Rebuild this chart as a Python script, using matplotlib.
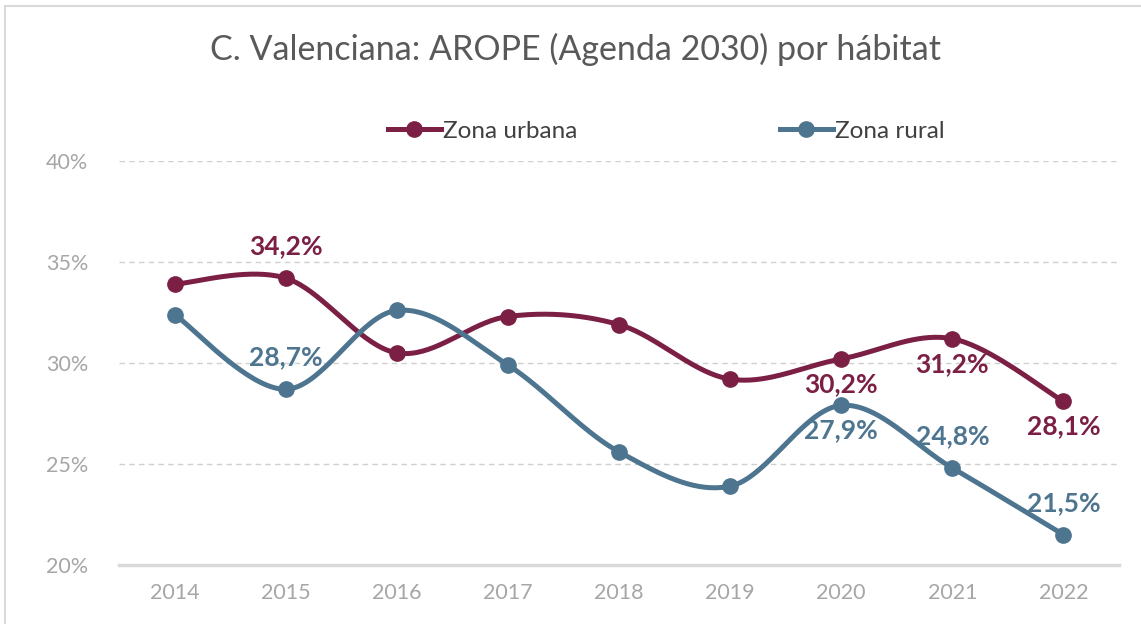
import numpy as np
import matplotlib
matplotlib.use("Agg")
import matplotlib.pyplot as plt
from matplotlib.patches import Rectangle

years = ["2014", "2015", "2016", "2017", "2018", "2019", "2020", "2021", "2022"]
urbana = [33.9, 34.2, 30.5, 32.3, 31.9, 29.2, 30.2, 31.2, 28.1]
rural = [32.4, 28.7, 32.6, 29.9, 25.6, 23.9, 27.9, 24.8, 21.5]
# labelled points: index -> position
urb_labels = {1: "above", 6: "below", 7: "below", 8: "below"}
rur_labels = {1: "above", 6: "below", 7: "above", 8: "above"}

C_URB = "#7B1F45"
C_RUR = "#4E7590"

plt.rcParams['font.family'] = ['Lato', 'DejaVu Sans']

fig = plt.figure(figsize=(11.41, 6.24), dpi=100)
fig.patches.append(Rectangle((0.004, -0.01), 0.999, 1.0, transform=fig.transFigure,
                             fill=False, edgecolor="#D9D9D9", linewidth=1.5))
ax = fig.add_axes([0.1043, 0.0946, 0.8764, 0.6474])

def smooth(xs, ys, n=40):
    xs = np.asarray(xs, float); ys = np.asarray(ys, float)
    P = np.column_stack([xs, ys])
    P = np.vstack([P[0], P, P[-1]])
    out = []
    for i in range(1, len(P) - 2):
        p0, p1, p2, p3 = P[i - 1], P[i], P[i + 1], P[i + 2]
        c1 = p1 + (p2 - p0) / 6
        c2 = p2 - (p3 - p1) / 6
        t = np.linspace(0, 1, n)[:, None]
        seg = (1 - t) ** 3 * p1 + 3 * (1 - t) ** 2 * t * c1 + 3 * (1 - t) * t ** 2 * c2 + t ** 3 * p2
        out.append(seg if i == 1 else seg[1:])
    out = np.vstack(out)
    return out[:, 0], out[:, 1]

x = np.arange(len(years))
for vals, col, lab in [(urbana, C_URB, "Zona urbana"), (rural, C_RUR, "Zona rural")]:
    sx, sy = smooth(x, vals)
    ax.plot(sx, sy, color=col, lw=3.6, solid_capstyle="round", zorder=3)
    ax.plot(x, vals, 'o', color=col, ms=11, zorder=4)
    ax.plot([], [], '-o', color=col, lw=3.6, ms=11, label=lab)

def fmt(v):
    return f"{v:.1f}%".replace(".", ",")

for vals, col, labs in [(urbana, C_URB, urb_labels), (rural, C_RUR, rur_labels)]:
    for i, pos in labs.items():
        off = 23 if pos == "above" else -18
        ax.annotate(fmt(vals[i]), (x[i], vals[i]), xytext=(0, off), textcoords="offset points",
                    ha="center", va="center",
                    color=col, fontsize=19, fontweight="bold", zorder=5)

ax.set_xlim(-0.5, len(years) - 0.5)
ax.set_ylim(20, 40)
ax.set_yticks([20, 25, 30, 35, 40])
ax.set_yticklabels([f"{v}%" for v in [20, 25, 30, 35, 40]])
ax.set_xticks(x)
ax.set_xticklabels(years)
ax.tick_params(axis='both', length=0, labelsize=15.5, labelcolor="#A6A6A6")
ax.tick_params(axis='x', pad=13)
ax.tick_params(axis='y', pad=22)
for s in ["top", "right", "left"]:
    ax.spines[s].set_visible(False)
ax.spines["bottom"].set_color("#D9D9D9")
ax.spines["bottom"].set_linewidth(2.5)
ax.yaxis.grid(True, color="#D0D0D0", linestyle=(0, (4, 3)), linewidth=1)
ax.set_axisbelow(True)

fig.text(0.504, 0.92, "C. Valenciana: AROPE (Agenda 2030) por hábitat", ha="center", va="center",
         fontsize=24.5, color="#595959")

leg = fig.legend(loc="center", bbox_to_anchor=(0.584, 0.79), ncol=2, frameon=False,
                 fontsize=17.5, handlelength=2.2, handletextpad=0.1, columnspacing=8.3)
for t in leg.get_texts():
    t.set_color("#404040")

fig.savefig("out.png", dpi=100)
